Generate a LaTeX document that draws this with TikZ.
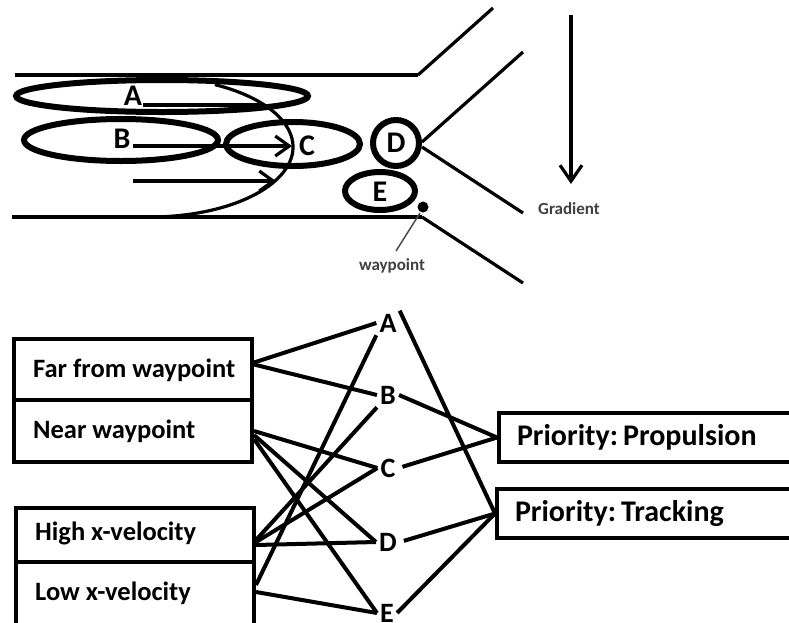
\documentclass[tikz,border=0pt]{standalone}
\usepackage{fontspec}
\setmainfont{Carlito}
\usetikzlibrary{arrows.meta,calc}
\begin{document}
\frenchspacing
\begin{tikzpicture}[x=1pt,y=-1pt,
  chan/.style={line width=4.5pt},
  thinl/.style={line width=3.2pt},
  ell/.style={line width=6pt},
  conn/.style={line width=4pt},
  toplbl/.style={font=\fontsize{30}{33}\selectfont\bfseries, inner sep=1pt},
  letter/.style={font=\fontsize{28}{31}\selectfont\bfseries, inner sep=3pt},
  rowbox/.style={draw, line width=4pt, minimum width=238pt, inner sep=0pt},
  rowtxt/.style={font=\fontsize{26.5}{30}\selectfont\bfseries, anchor=west, inner sep=0pt},
  pbox/.style={draw, line width=4pt, anchor=west, minimum height=49pt, text width=300pt,
               align=left, inner xsep=18pt, font=\fontsize{30}{33}\selectfont\bfseries},
  barb/.style={-{Straight Barb[length=14pt,width=20pt]}},
  small/.style={font=\fontsize{17}{19}\selectfont\bfseries, text=black!75, inner sep=0pt}
]
\useasboundingbox (0,0) rectangle (789,622);
\clip (0,0) rectangle (789,622);

% ---- top: channel ----
\coordinate (t0) at (15,75);
\coordinate (t1) at (418,75);
\coordinate (t2) at (493,8);
\coordinate (b0) at (12,217);
\coordinate (b1) at (422,217);
\coordinate (b2) at (523,283);
\draw[chan] (t0) -- (t1);
\draw[thinl] (t1) -- (t2);
\draw[chan] (b0) -- (b1);
\draw[thinl] (b1) -- (b2);

% ellipses
\draw[ell] (162,96) ellipse [x radius=146pt, y radius=16pt];
\draw[ell] (121,140) ellipse [x radius=97pt, y radius=21pt];
\draw[ell] (293,144) ellipse [x radius=67pt, y radius=22pt];
\draw[ell] (380,191) ellipse [x radius=35pt, y radius=19pt];
\node[circle, draw, ell, minimum size=46pt, inner sep=0pt, font=\fontsize{30}{33}\selectfont\bfseries] (Dt) at (396,143) {D};

\node[toplbl] (At) at (133,96) {A};
\node[toplbl] (Bt) at (122,139) {B};
\node[toplbl] (Ct) at (307,146) {C};
\node[toplbl] (Et) at (380,192) {E};

% flow arc and arrows
\draw[thinl] (150,147) ++(63:143pt and 70pt) arc[start angle=63, end angle=-95, x radius=143pt, y radius=70pt];
\coordinate (a1) at (143,105);
\coordinate (a2) at (264,105);
\coordinate (c1) at (133,146);
\coordinate (c2) at (292,146);
\coordinate (e1) at (133,181);
\coordinate (e2) at (276,181);
\draw[thinl] (a1) -- (a2);
\draw[thinl, barb] (c1) -- (c2);
\draw[thinl, barb] (e1) -- (e2);

% diverging lines from D
\coordinate (du) at (523,52);
\coordinate (dd) at (523,213);
\draw[thinl] ([yshift=1pt]Dt.east) -- (du);
\draw[thinl] ([yshift=-4pt]Dt.east) -- (dd);

% waypoint
\fill (423,207) circle [radius=5.5pt];
\coordinate (wpd) at (420,213);
\node[small] (wp) at (392,266) {waypoint};
\draw[line width=1.5pt, black!70] (396,251) -- (wpd);

% gradient
\coordinate (g1) at (571,15);
\coordinate (g2) at (571,184);
\draw[thinl, -{Straight Barb[length=16pt,width=22pt]}] (g1) -- (g2);
\node[small] (grad) at (569,209) {Gradient};

% ---- bottom ----
\node[rowbox, minimum height=61pt] (far) at (133,369.5) {};
\node[rowbox, minimum height=62pt] (near) at (133,431) {};
\node[rowbox, minimum height=54pt] (high) at (135,535) {};
\node[rowbox, minimum height=68pt] (low) at (135,596) {};
\node[rowtxt] (fart) at (33,370) {Far from waypoint};
\node[rowtxt] (neart) at (33,431) {Near waypoint};
\node[rowtxt] (hight) at (35,533) {High x-velocity};
\node[rowtxt] (lowt) at (35,593) {Low x-velocity};

\node[letter] (A) at (388,323) {A};
\node[letter] (B) at (388,395) {B};
\node[letter] (C) at (388,468) {C};
\node[letter] (D) at (388,542) {D};
\node[letter] (E) at (387,613) {E};

\node[pbox] (prop) at (497,437.5) {Priority:\kern-5pt\ Propulsion};
\node[pbox] (track) at (495,513.5) {Priority:\kern-5pt\ Tracking};

\draw[conn] ([yshift=7pt]far.east) -- (A.west);
\draw[conn] ([yshift=5pt]far.east) -- (B.west);
\draw[conn] (near.east) -- (C.west);
\draw[conn] ([yshift=-4pt]near.east) -- (D.west);
\draw[conn] ([yshift=-8pt]near.east) -- (E.west);
\draw[conn] ([yshift=-5pt]high.east) -- (B.south west);
\draw[conn] ([yshift=-7pt]high.east) -- (C.west);
\draw[conn] ([yshift=-10pt]high.east) -- (D.west);
\draw[conn] ([yshift=11pt]low.east) -- (A.south west);
\draw[conn] ([yshift=4pt]low.east) -- (E.west);

\draw[conn] (A.north east) -- (track.west);
\draw[conn] (B.east) -- (prop.west);
\draw[conn, shorten <=4pt] (C.east) -- (prop.west);
\draw[conn, shorten <=4pt] (D.east) -- (track.west);
\draw[conn] (E.east) -- (track.west);
\end{tikzpicture}
\end{document}
